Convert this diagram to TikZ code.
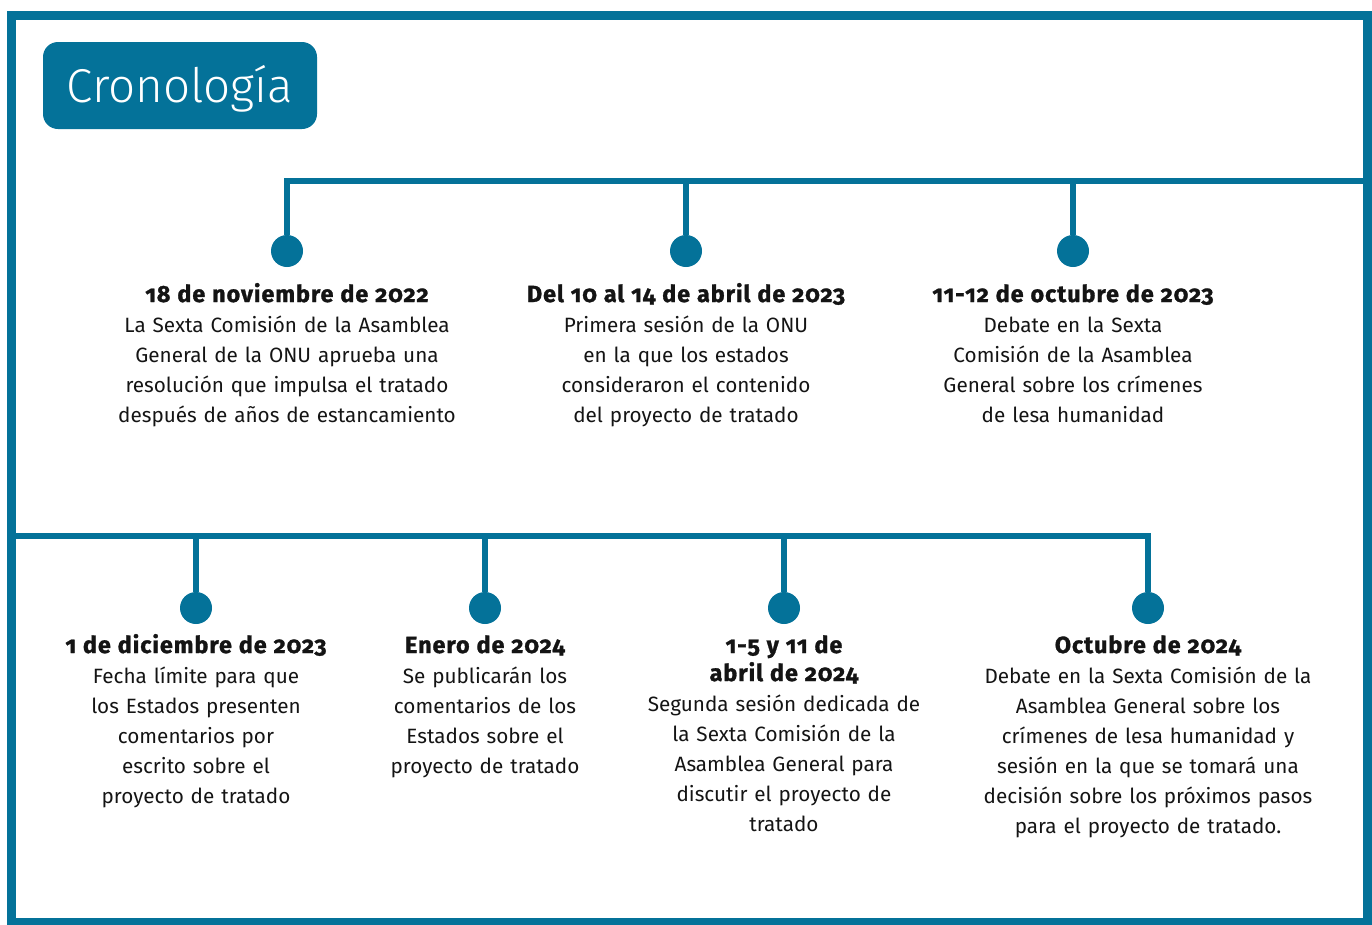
\documentclass[tikz,border=0pt]{standalone}
\usepackage{fontspec}
\setmainfont{Fira Sans}
\newfontfamily\hfam{Fira Sans}[Numbers=OldStyle, LetterSpace=4, BoldFeatures={FakeBold=1.2}]
\newfontfamily\lightfam{Fira Sans Light}
\definecolor{hrw}{RGB}{4,114,153}
\definecolor{txt}{RGB}{20,20,20}
\newcommand\evbody{\fontsize{20.7}{30}\selectfont}
\newcommand\evhead{\hfam\bfseries\fontsize{23.4}{30}\selectfont}
\newcommand\titlef{\lightfam\fontsize{47.5}{50}\selectfont}
\begin{document}
\begin{tikzpicture}[x=1pt,y=-1pt,
  tl/.style={line width=6pt, draw=hrw},
  dot/.style={circle, fill=hrw, minimum size=32pt, inner sep=0pt},
  ev/.style={text width=420pt, align=center, anchor=base, inner sep=0pt, font=\evbody, text=txt}]
\useasboundingbox (0,0) rectangle (1372,924);
% frame
\draw[line width=9pt, draw=hrw] (11.5,15.5) rectangle (1367.5,922.5);
% title
\node[fill=hrw, rounded corners=15pt, minimum width=274pt, minimum height=87pt, inner sep=0pt] (titlebox) at (180,85.5) {};
\node[anchor=base, text=white, font=\titlef, inner sep=0pt] (title) at (180,102) {Cronología};
% top timeline
\node[dot] (d1) at (287,251) {};
\node[dot] (d2) at (686,251) {};
\node[dot] (d3) at (1073,251) {};
\coordinate (t1) at (287,181);
\coordinate (t2) at (686,181);
\coordinate (t3) at (1073,181);
\coordinate (tR) at (1368,181);
\draw[tl] (tR) -- (t1) -- (d1);
\draw[tl] (t2) -- (d2);
\draw[tl] (t3) -- (d3);
% bottom timeline
\node[dot] (d4) at (196,608) {};
\node[dot] (d5) at (485,608) {};
\node[dot] (d6) at (784,608) {};
\node[dot] (d7) at (1148,608) {};
\coordinate (bL) at (11,536);
\coordinate (b4) at (196,536);
\coordinate (b5) at (485,536);
\coordinate (b6) at (784,536);
\coordinate (b7) at (1148,536);
\draw[tl] (bL) -- (b7) -- (d7);
\draw[tl] (b4) -- (d4);
\draw[tl] (b5) -- (d5);
\draw[tl] (b6) -- (d6);
% events
\node[ev] (e1) at (287,302) {{\evhead 18 de noviembre de 2022}\\La Sexta Comisión de la Asamblea\\General de la ONU aprueba una\\resolución que impulsa el tratado\\después de años de estancamiento};
\node[ev] (e2) at (686,302) {{\evhead Del 10 al 14 de abril de 2023}\\Primera sesión de la ONU\\en la que los estados\\consideraron el contenido\\del proyecto de tratado};
\node[ev] (e3) at (1073,302) {{\evhead 11-12 de octubre de 2023}\\Debate en la Sexta\\Comisión de la Asamblea\\General sobre los crímenes\\de lesa humanidad};
\node[ev] (e4) at (196,653) {{\evhead 1 de diciembre de 2023}\\Fecha límite para que\\los Estados presenten\\comentarios por\\escrito sobre el\\proyecto de tratado};
\node[ev] (e5) at (485,653) {{\evhead Enero de 2024}\\Se publicarán los\\comentarios de los\\Estados sobre el\\proyecto de tratado};
\node[ev] (e6) at (784,653) {{\evhead 1-5 y 11 de}\\[-2pt]{\evhead abril de 2024}\\Segunda sesión dedicada de\\la Sexta Comisión de la\\Asamblea General para\\discutir el proyecto de\\tratado};
\node[ev] (e7) at (1148,653) {{\evhead Octubre de 2024}\\Debate en la Sexta Comisión de la\\Asamblea General sobre los\\crímenes de lesa humanidad y\\sesión en la que se tomará una\\decisión sobre los próximos pasos\\para el proyecto de tratado.};
\end{tikzpicture}
\end{document}
